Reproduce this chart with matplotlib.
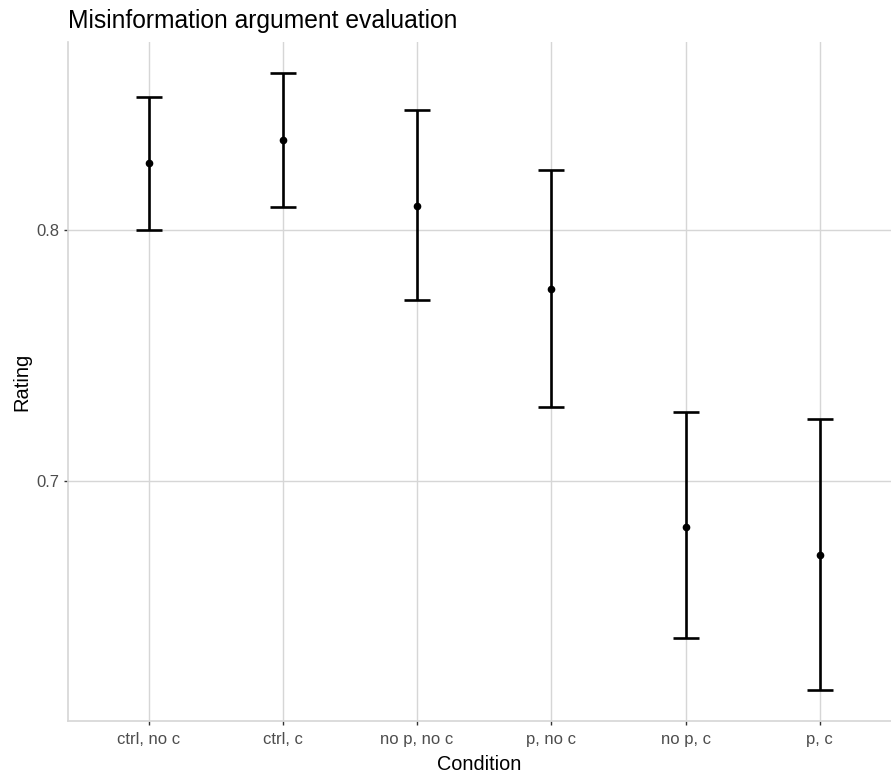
import matplotlib
matplotlib.use('Agg')
import matplotlib.pyplot as plt
import numpy as np

plt.rcParams['font.family'] = ['Liberation Sans', 'DejaVu Sans']

conditions = ['ctrl, no c', 'ctrl, c', 'no p, no c', 'p, no c', 'no p, c', 'p, c']
means = [0.8267, 0.8359, 0.8096, 0.7765, 0.6817, 0.6705]
lower = [0.8000, 0.8092, 0.7721, 0.7295, 0.6375, 0.6167]
upper = [0.8530, 0.8625, 0.8478, 0.8239, 0.7275, 0.7247]

GRID = '#d6d6d6'
TICKTXT = '#4d4d4d'

fig = plt.figure(figsize=(8.91, 7.74), dpi=100)
ax = fig.add_axes([68/891., 53/774., 823/891., 679/774.])

x = np.arange(1, len(conditions) + 1)
means = np.array(means)
yerr = [means - np.array(lower), np.array(upper) - means]

# mean points with confidence interval bars
ax.errorbar(x, means, yerr=yerr, fmt='o', color='black', ms=4.5,
            elinewidth=1.9, capsize=9.4, capthick=1.9, zorder=3)

ax.set_xlim(0.4, 6.53)
ax.set_ylim(0.6044, 0.8749)
ax.set_xticks(x)
ax.set_xticklabels(conditions)
ax.set_yticks([0.7, 0.8])
ax.set_yticklabels(['0.7', '0.8'])

ax.grid(True, color=GRID, linewidth=1.0, zorder=0)
ax.set_axisbelow(True)
for s in ['top', 'right']:
    ax.spines[s].set_visible(False)
for s in ['left', 'bottom']:
    ax.spines[s].set_color(GRID)
    ax.spines[s].set_linewidth(1.2)

ax.tick_params(axis='both', colors='#333333', labelcolor=TICKTXT,
               labelsize=12, length=3, width=1)
ax.tick_params(axis='x', pad=5)

ax.set_xlabel('Condition', fontsize=14.3, color='black', labelpad=5.5)
ax.set_ylabel('Rating', fontsize=14.5, color='black', labelpad=3)
ax.set_title('Misinformation argument evaluation', fontsize=17.7, loc='left',
             x=0, pad=10)

fig.savefig('out.png', dpi=100)
